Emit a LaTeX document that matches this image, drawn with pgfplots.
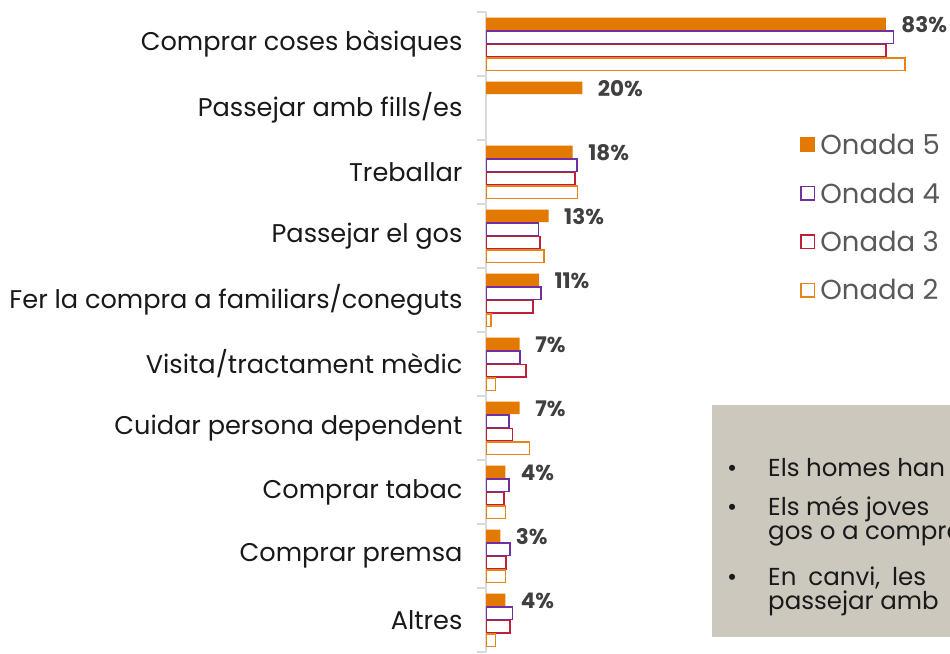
\documentclass[border=0pt]{standalone}
\usepackage{pgfplots}
\pgfplotsset{compat=1.18}
\usepackage{fontspec}
\setmainfont{Poppins}
\definecolor{O5}{RGB}{227,121,0}
\definecolor{O4}{RGB}{112,48,160}
\definecolor{O3}{RGB}{190,30,55}
\definecolor{O2}{RGB}{232,131,20}
\definecolor{boxbg}{RGB}{205,200,190}
\definecolor{axgray}{RGB}{217,217,217}
\definecolor{valgray}{RGB}{64,64,64}
\definecolor{leggray}{RGB}{89,89,89}

\begin{document}
\begin{tikzpicture}
\useasboundingbox (0pt,0pt) rectangle (950pt,653pt);
\clip (0pt,0pt) rectangle (950pt,653pt);
\begin{axis}[
    at={(486pt,1pt)}, anchor=south west,
    scale only axis,
    width=464pt, height=640pt,
    xbar,
    y dir=reverse,
    xmin=0, xmax=96.3,
    ymin=-0.5, ymax=9.5,
    axis x line=none,
    axis y line*=left,
    y axis line style={axgray, line width=1.5pt, -},
    ytick={0,...,9},
    yticklabels={Comprar coses bàsiques, Passejar amb fills/es, Treballar, Passejar el gos,
      Fer la compra a familiars/coneguts, Visita/tractament mèdic, Cuidar persona dependent,
      Comprar tabac, Comprar premsa, Altres},
    major tick length=0pt,
    minor ytick={-0.5,0.5,...,9.5},
    minor tick length=9pt,
    tick align=outside,
    minor tick style={axgray, line width=1.5pt},
    yticklabel style={font=\fontsize{25.6}{28}\selectfont, text=black!90, xshift=-20pt},
    /pgf/number format/assume math mode=true,
    bar width=12.5pt,
    legend style={at={(0.677,0.812)}, anchor=north west, draw=none, fill=none,
      font=\fontsize{27.5}{30}\selectfont, text=leggray, row sep=22.5pt,
      inner sep=0pt, /tikz/every odd column/.append style={column sep=3pt}},
    legend cell align=left,
]
\addplot[fill=O5, draw=none, bar shift=20.25pt,
    nodes near coords={\pgfmathprintnumber\pgfplotspointmeta\%},
    nodes near coords style={anchor=west, xshift=12pt, yshift=-1pt, text=valgray,
      font=\bfseries\fontsize{21.5}{24}\selectfont},
    legend image code/.code={\fill[O5] (0pt,-7pt) rectangle (15pt,8pt);}]
  coordinates {(83,0) (20,1) (18,2) (13,3) (11,4) (7,5) (7,6) (4,7) (3,8) (4,9)};
\addplot[fill=white, draw=O4, line width=1.5pt, bar shift=6.75pt,
    legend image code/.code={\draw[O4, fill=white, line width=1.5pt] (0.75pt,-6.25pt) rectangle (14.25pt,7.25pt);}]
  coordinates {(84.6,0) (18.9,2) (10.9,3) (11.4,4) (7.1,5) (4.8,6) (4.8,7) (5,8) (5.5,9)};
\addplot[fill=white, draw=O3, line width=1.5pt, bar shift=-6.75pt,
    legend image code/.code={\draw[O3, fill=white, line width=1.5pt] (0.75pt,-6.25pt) rectangle (14.25pt,7.25pt);}]
  coordinates {(83,0) (18.5,2) (11.2,3) (9.8,4) (8.3,5) (5.5,6) (3.7,7) (4.2,8) (5,9)};
\addplot[fill=white, draw=O2, line width=1.5pt, bar shift=-20.25pt,
    legend image code/.code={\draw[O2, fill=white, line width=1.5pt] (0.75pt,-6.25pt) rectangle (14.25pt,7.25pt);}]
  coordinates {(87,0) (19,2) (12,3) (1,4) (2,5) (9,6) (4,7) (4,8) (2,9)};
\legend{Onada 5, Onada 4, Onada 3, Onada 2}
\end{axis}
% text box, cut by the picture's right edge
\fill[boxbg] (712pt,16pt) rectangle (980pt,248pt);
\begin{scope}[every node/.style={anchor=base west, inner sep=0pt, text=black!90,
    font=\fontsize{24.5}{27}\selectfont}]
  \node at (727pt,176pt) {•};
  \node at (768pt,176pt) {Els homes han};
  \node at (727pt,137pt) {•};
  \node at (768pt,137pt) {Els més joves};
  \node at (768pt,113pt) {gos o a comprar};
  \node at (727pt,67pt) {•};
  \node at (768pt,67pt) {En\hspace{12pt}canvi,\hspace{12pt}les};
  \node at (768pt,43pt) {passejar amb};
\end{scope}
\end{tikzpicture}
\end{document}
